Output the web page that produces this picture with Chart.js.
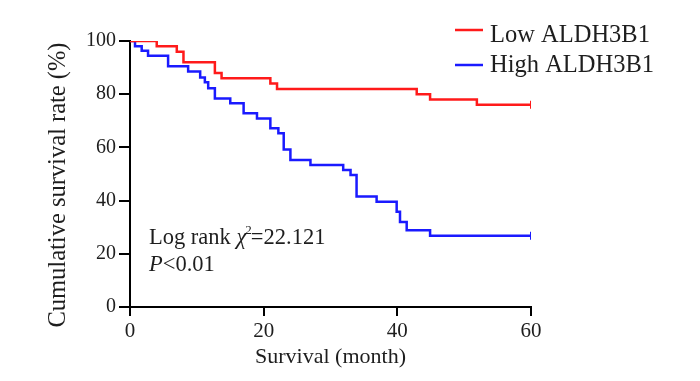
<!DOCTYPE html>
<html>
<head>
<meta charset="utf-8">
<script src="https://cdn.jsdelivr.net/npm/chart.js@4/dist/chart.umd.min.js"></script>
<style>
  html, body { margin: 0; padding: 0; background: #fff; }
  #wrap { width: 700px; height: 381px; }
</style>
</head>
<body>
<div id="wrap"><canvas id="km" width="700" height="381"></canvas></div>
<script>
// Kaplan-Meier curves (months, survival %)
const lowTime  = [0, 4.0, 7.0, 8.0, 12.7, 13.7, 21.0, 22.0, 42.9, 44.9, 51.9, 60];
const lowSurv  = [100, 98, 96, 92, 88, 86, 84, 82, 80, 78, 76, 76];

const highTime = [0, 0.75, 1.75, 2.7, 5.7, 8.7, 10.5, 11.2, 11.7, 12.7, 15.0, 17.0, 19.0, 21.0, 22.2, 23.0, 24.0, 27.0, 31.9, 33.0, 33.9, 36.9, 39.9, 40.4, 41.4, 44.9, 60];
const highSurv = [100, 98, 96.3, 94.5, 90.5, 88.5, 86.3, 84.5, 82.2, 78.4, 76.6, 72.8, 70.9, 67.2, 65.3, 59.2, 55.3, 53.4, 51.5, 49.6, 41.5, 39.6, 35.8, 32.0, 28.9, 26.8, 26.8];

const xTicks = [0, 20, 40, 60];
const yTicks = [0, 20, 40, 60, 80, 100];

const seriesNames = ['Low ALDH3B1', 'High ALDH3B1'];
const seriesColors = ['#ff1a1a', '#1a1aff'];
const yTitle = 'Cumulative survival rate (%)';

const serif = '"Liberation Serif", "Times New Roman", serif';

function toPoints(t, s) {
    return t.map((x, i) => ({ x: x, y: s[i] }));
}

// legend, y title and log-rank text drawn on top
const extras = {
    id: 'extras',
    afterDraw(chart) {
        const ctx = chart.ctx;
        ctx.save();
        // legend
        const legendY = [30, 65];
        const legendBase = [42, 72];
        seriesNames.forEach((name, i) => {
            ctx.strokeStyle = seriesColors[i];
            ctx.lineWidth = 2.5;
            ctx.beginPath();
            ctx.moveTo(455, legendY[i]);
            ctx.lineTo(483, legendY[i]);
            ctx.stroke();
            ctx.fillStyle = '#1e1e1e';
            ctx.font = '24.5px ' + serif;
            ctx.textBaseline = 'alphabetic';
            ctx.fillText(name, 490, legendBase[i]);
        });

        // y axis title (rotated)
        ctx.save();
        ctx.translate(59, 185);
        ctx.rotate(-Math.PI / 2);
        ctx.font = '24.5px ' + serif;
        ctx.textAlign = 'center';
        ctx.textBaseline = 'middle';
        ctx.fillStyle = '#1e1e1e';
        ctx.fillText(yTitle, 0, 0);
        ctx.restore();

        // log rank annotation
        let x = 149;
        const y1 = 244;
        const fs = 22.5;
        ctx.fillStyle = '#1e1e1e';
        ctx.font = fs + 'px ' + serif;
        ctx.fillText('Log rank ', x, y1);
        x += ctx.measureText('Log rank ').width;
        ctx.font = 'italic ' + fs + 'px ' + serif;
        ctx.fillText('\u03c7', x, y1);
        x += ctx.measureText('\u03c7').width;
        ctx.font = '13px ' + serif;
        ctx.fillText('2', x - 1, y1 - 10);
        x += ctx.measureText('2').width - 2;
        ctx.font = fs + 'px ' + serif;
        ctx.fillText('=22.121', x, y1);

        const y2 = 271;
        x = 149;
        ctx.font = 'italic ' + fs + 'px ' + serif;
        ctx.fillText('P', x, y2);
        x += ctx.measureText('P').width;
        ctx.font = fs + 'px ' + serif;
        ctx.fillText('<0.01', x, y2);
        ctx.restore();
    }
};

const lineDataset = (label, pts, color) => ({
    label: label,
    data: pts,
    borderColor: color,
    backgroundColor: color,
    borderWidth: 2.5,
    stepped: 'before',
    pointStyle: 'line',
    pointRotation: 90,
    pointRadius: pts.map((p, i) => i === pts.length - 1 ? 4 : 0),
    pointBorderWidth: 2,
    fill: false
});

new Chart(document.getElementById('km'), {
    type: 'line',
    data: {
        datasets: [
            lineDataset(seriesNames[0], toPoints(lowTime, lowSurv), seriesColors[0]),
            lineDataset(seriesNames[1], toPoints(highTime, highSurv), seriesColors[1])
        ]
    },
    options: {
        responsive: false,
        animation: false,
        layout: { padding: { left: 0, top: 41, right: 169, bottom: 0 } },
        plugins: {
            legend: { display: false },
            tooltip: { enabled: false }
        },
        scales: {
            x: {
                type: 'linear',
                min: 0,
                max: 60,
                afterFit: s => { s.height = 74; },
                afterBuildTicks: s => { s.ticks = xTicks.map(v => ({ value: v })); },
                ticks: { font: { family: serif, size: 21 }, color: '#1e1e1e', padding: 3, maxRotation: 0 },
                grid: { drawOnChartArea: false, drawTicks: true, tickLength: 9, color: '#000', lineWidth: 2 },
                border: { display: true, color: '#000', width: 2 },
                title: {
                    display: true,
                    text: 'Survival (month)',
                    font: { family: serif, size: 22 },
                    color: '#1e1e1e',
                    padding: { top: 0, bottom: 11 }
                }
            },
            y: {
                min: 0,
                max: 100,
                afterFit: s => { s.width = 130; },
                afterBuildTicks: s => { s.ticks = yTicks.map(v => ({ value: v })); },
                ticks: { font: { family: serif, size: 20 }, color: '#1e1e1e', padding: 3 },
                grid: { drawOnChartArea: false, drawTicks: true, tickLength: 11, color: '#000', lineWidth: 2 },
                border: { display: true, color: '#000', width: 2 },
                title: { display: false }
            }
        }
    },
    plugins: [extras]
});
</script>
</body>
</html>
